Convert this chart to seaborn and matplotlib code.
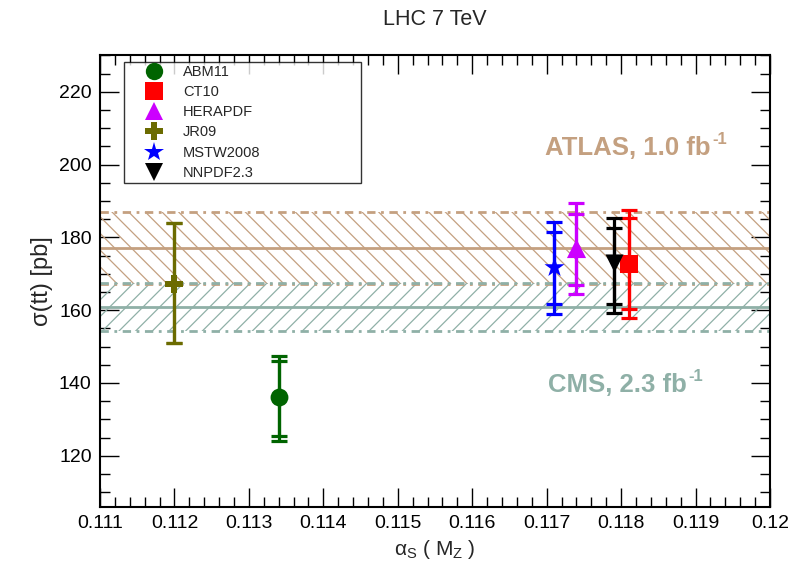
import numpy as np
import pandas as pd
import matplotlib
matplotlib.use("Agg")
import matplotlib.pyplot as plt
from matplotlib.lines import Line2D
from matplotlib.ticker import MultipleLocator, FormatStrFormatter
import seaborn as sns

# Predictions of sigma(tt) at LHC 7 TeV for several PDF sets
pdf_sets = ["ABM11", "CT10", "HERAPDF", "JR09", "MSTW2008", "NNPDF2.3"]
alpha_s = [0.1134, 0.1181, 0.1174, 0.1120, 0.1171, 0.1179]
sigma = [136.0, 172.6, 177.1, 167.2, 171.8, 173.0]
outer_lo = [124.1, 157.7, 164.4, 150.9, 158.8, 159.1]
outer_hi = [147.5, 187.5, 189.5, 184.0, 184.3, 185.4]
inner_lo = [125.5, 160.2, 166.9, 150.9, 161.6, 161.6]
inner_hi = [146.1, 185.2, 186.3, 184.0, 181.4, 182.5]

colors = ["#006400", "#ff0000", "#cc00ff", "#6b6b00", "#0000ff", "#000000"]
markers = ["o", "s", "^", "P", "*", "v"]
marker_sizes = [165, 150, 190, 170, 230, 170]

# Measurements (central value, band low, band high)
atlas = [177.0, 167.2, 187.0]
cms = [160.9, 154.3, 167.4]
atlas_color = "#c4a080"
cms_color = "#8fb0a7"

sns.set_theme(style="ticks")
plt.rcParams["font.family"] = ["Liberation Sans", "DejaVu Sans"]
plt.rcParams["mathtext.fontset"] = "custom"
plt.rcParams["mathtext.rm"] = "Liberation Sans"
plt.rcParams["mathtext.it"] = "Liberation Sans"
plt.rcParams["hatch.linewidth"] = 0.9

fig = plt.figure(figsize=(8.03, 5.66), dpi=100)
ax = fig.add_axes([100 / 803, 1 - 506.7 / 566, 670 / 803, 451.4 / 566])

xlim = (0.111, 0.120)
ax.set_xlim(*xlim)
ax.set_ylim(106, 230)

# Measurement bands
xs = np.array(xlim)
for (c, lo, hi), col, hatch in [(atlas, atlas_color, "\\\\"), (cms, cms_color, "//")]:
    ax.fill_between(xs, lo, hi, facecolor="none", edgecolor=col, hatch=hatch,
                    linewidth=0, zorder=1)
    ax.axhline(c, color=col, lw=2, zorder=2)
    for edge in (lo, hi):
        ax.axhline(edge, color=col, lw=2, ls=(0, (3, 2, 1, 2)), zorder=2)

# Error bars: outer and inner uncertainties
for i in range(len(pdf_sets)):
    x = alpha_s[i]
    for lo, hi in ((outer_lo[i], outer_hi[i]), (inner_lo[i], inner_hi[i])):
        ax.errorbar([x], [sigma[i]], yerr=[[sigma[i] - lo], [hi - sigma[i]]],
                    fmt="none", ecolor=colors[i], elinewidth=2.3, capsize=6,
                    capthick=2.3, zorder=3)

df = pd.DataFrame({"pdf": pdf_sets, "alpha_s": alpha_s, "sigma": sigma})
for i, name in enumerate(pdf_sets):
    sns.scatterplot(data=df[df["pdf"] == name], x="alpha_s", y="sigma",
                    color=colors[i], marker=markers[i], s=marker_sizes[i],
                    linewidth=0, ax=ax, zorder=4, legend=False)

# Legend
handles = [Line2D([], [], ls="none", marker=m, color=c,
                  markersize=12.5 if m != "*" else 14.5, markeredgewidth=0)
           for m, c in zip(markers, colors)]
leg = ax.legend(handles, pdf_sets, loc="upper left", mode="expand",
                bbox_to_anchor=(0.0358, 0.9858, 0.3533, 0),
                frameon=True, fancybox=False, fontsize=10.5,
                handlelength=3.75, handletextpad=0.11, borderpad=0.2,
                labelspacing=0.43, borderaxespad=0)
leg.get_frame().set_edgecolor("black")
leg.get_frame().set_linewidth(1.0)

# Measurement labels
for txt, x, y, col in [("ATLAS, 1.0 fb", 0.11698, 204.5, atlas_color),
                       ("CMS, 2.3 fb", 0.11702, 139.5, cms_color)]:
    t = ax.text(x, y, txt, color=col, fontsize=18.5, fontweight="bold",
                va="center", ha="left")
    ax.annotate("-1", xy=(1.0, 0.55), xycoords=t, xytext=(1, 0),
                textcoords="offset points", color=col, fontsize=12,
                fontweight="bold", va="bottom", ha="left")

# Axes styling
ax.xaxis.set_major_locator(MultipleLocator(0.001))
ax.xaxis.set_minor_locator(MultipleLocator(0.0002))
ax.yaxis.set_major_locator(MultipleLocator(20))
ax.yaxis.set_minor_locator(MultipleLocator(5))
ax.xaxis.set_major_formatter(FormatStrFormatter("%g"))
ax.tick_params(which="both", direction="in", top=True, right=True,
               labelsize=14, colors="black", pad=6)
ax.tick_params(which="major", length=14, width=1)
ax.tick_params(which="minor", length=7, width=1)
for sp in ax.spines.values():
    sp.set_linewidth(1.5)
    sp.set_color("black")

ax.set_xlabel(r"α$_\mathrm{S}$ ( M$_\mathrm{Z}$ )", fontsize=15)
ax.set_ylabel("σ(tt) [pb]", fontsize=17)
ax.set_title("LHC 7 TeV", fontsize=15.5, pad=22)

fig.savefig("out.png", dpi=100)
